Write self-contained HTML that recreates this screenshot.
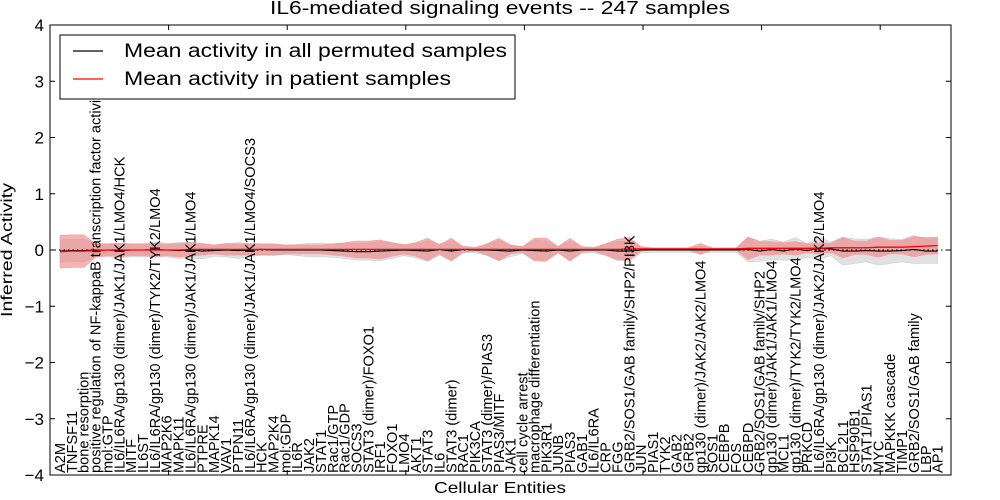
<!DOCTYPE html>
<html><head><meta charset="utf-8"><style>
html,body{margin:0;padding:0;background:#fff;}
svg{display:block;font-family:"Liberation Sans","DejaVu Sans",sans-serif;}
</style></head><body>
<svg id="chart" width="1000" height="500" viewBox="0 0 1000 500">
<rect x="0" y="0" width="1000" height="500" fill="#fff"/>
<text x="500" y="14" font-size="18" text-anchor="middle" textLength="460" lengthAdjust="spacingAndGlyphs">IL6-mediated signaling events -- 247 samples</text>
<text transform="translate(12,250) rotate(-90)" font-size="16" text-anchor="middle" textLength="134" lengthAdjust="spacingAndGlyphs">Inferred Activity</text>
<text x="500" y="493" font-size="16" text-anchor="middle" textLength="132" lengthAdjust="spacingAndGlyphs">Cellular Entities</text>
<g id="bands"></g>
<g id="lines"></g>
<g id="axes"></g>
<g id="xlabels"></g>
<g>
<rect x="60" y="35" width="455" height="64" fill="#fff" stroke="#000" stroke-width="1"/>
<line x1="73" y1="51" x2="103" y2="51" stroke="#000" stroke-width="1.2"/>
<text x="124" y="57" font-size="19" textLength="383" lengthAdjust="spacingAndGlyphs">Mean activity in all permuted samples</text>
<line x1="73" y1="79" x2="103" y2="79" stroke="#f00" stroke-width="1.2"/>
<text x="124" y="85" font-size="19" textLength="327" lengthAdjust="spacingAndGlyphs">Mean activity in patient samples</text>
</g>
</svg>
<script>
const categories = ["A2M","TNFSF11","bone resorption","positive regulation of NF-kappaB transcription factor activity","mol:GTP","IL6/IL6RA/gp130 (dimer)/JAK1/JAK1/LMO4/HCK","MITF","IL6ST","IL6/IL6RA/gp130 (dimer)/TYK2/TYK2/LMO4","MAP2K6","MAPK11","IL6/IL6RA/gp130 (dimer)/JAK1/JAK1/LMO4","PTPRE","MAPK14","VAV1","PTPN11","IL6/IL6RA/gp130 (dimer)/JAK1/JAK1/LMO4/SOCS3","HCK","MAP2K4","mol:GDP","IL6R","JAK2","STAT1","Rac1/GTP","Rac1/GDP","SOCS3","STAT3 (dimer)/FOXO1","IRF1","FOXO1","LMO4","AKT1","STAT3","IL6","STAT3 (dimer)","RAC1","PIK3CA","STAT3 (dimer)/PIAS3","PIAS3/MITF","JAK1","cell cycle arrest","macrophage differentiation","PIK3R1","JUNB","PIAS3","GAB1","IL6/IL6RA","CRP","FGG","GRB2/SOS1/GAB family/SHP2/PI3K","JUN","PIAS1","TYK2","GAB2","GRB2","gp130 (dimer)/JAK2/JAK2/LMO4","SOS1","CEBPB","FOS","CEBPD","GRB2/SOS1/GAB family/SHP2","gp130 (dimer)/JAK1/JAK1/LMO4","MCL1","gp130 (dimer)/TYK2/TYK2/LMO4","PRKCD","IL6/IL6RA/gp130 (dimer)/JAK2/JAK2/LMO4","PI3K","BCL2L1","HSP90B1","STAT1/PIAS1","MYC","MAPKKK cascade","TIMP1","GRB2/SOS1/GAB family","LBP","AP1"];
const patientMean = [-0.03,-0.02,-0.02,-0.01,0,0,0,0,0,0,0,0.01,0.01,0.01,0.01,0.01,0.01,0.01,0.01,0.01,0.01,0.01,0.01,0.01,0.01,0.01,0.01,0.01,0.01,0.01,0.01,0.01,0.01,0.01,0.01,0.01,0.01,0.01,0.01,0.01,0.01,0.01,0.01,0.01,0.01,0.01,0.01,0.01,0.02,0.02,0.02,0.02,0.02,0.02,0.02,0.02,0.02,0.02,0.03,0.03,0.03,0.03,0.03,0.03,0.03,0.04,0.04,0.04,0.04,0.05,0.05,0.05,0.06,0.07,0.08];
const patientSd = [0.29,0.29,0.29,0.12,0.1,0.12,0.1,0.1,0.12,0.1,0.12,0.12,0.1,0.08,0.1,0.1,0.1,0.1,0.1,0.08,0.08,0.08,0.08,0.1,0.12,0.15,0.15,0.17,0.12,0.08,0.12,0.2,0.08,0.2,0.05,0.03,0.1,0.2,0.08,0.05,0.2,0.2,0.05,0.2,0.05,0.03,0.1,0.18,0.2,0.04,0.02,0.02,0.02,0.02,0.1,0.02,0.02,0.02,0.2,0.12,0.12,0.1,0.12,0.08,0.1,0.08,0.18,0.12,0.12,0.18,0.12,0.12,0.18,0.15,0.15];
const permutedMean = [-0.02,-0.01,-0.01,0,0,-0.01,0,0,0.01,0,-0.01,0,-0.02,-0.01,0,-0.01,0,0.01,0,0,0,0,0,-0.01,-0.02,-0.03,-0.03,-0.02,-0.01,0,-0.01,-0.02,0.01,-0.02,0.01,0,0,-0.01,-0.02,0,-0.01,-0.02,0,-0.02,0,0,0,-0.02,-0.02,0,0,0,0,0,0,0,0,0,0.01,-0.02,0.01,-0.02,0.02,-0.01,0.03,0.02,-0.02,-0.02,-0.01,-0.02,-0.02,-0.01,0.01,-0.02,-0.02];
const permutedSd = [0.2,0.2,0.2,0.12,0.12,0.13,0.12,0.12,0.13,0.12,0.14,0.14,0.14,0.1,0.12,0.14,0.12,0.1,0.1,0.08,0.1,0.12,0.12,0.12,0.13,0.15,0.15,0.17,0.14,0.1,0.13,0.18,0.1,0.18,0.06,0.05,0.1,0.18,0.1,0.06,0.18,0.18,0.06,0.18,0.06,0.05,0.1,0.17,0.18,0.05,0.04,0.04,0.04,0.04,0.06,0.04,0.04,0.04,0.22,0.18,0.18,0.16,0.2,0.12,0.2,0.12,0.25,0.22,0.2,0.25,0.22,0.2,0.25,0.22,0.22];
const yTicks = [-4,-3,-2,-1,0,1,2,3,4];

const NS="http://www.w3.org/2000/svg";
const L=50,R=951,T=25,B=475;
const xS=i=>60+i*11.86;
const yS=v=>250-v*56.25;
function mk(tag,attrs,parent){const e=document.createElementNS(NS,tag);for(const k in attrs)e.setAttribute(k,attrs[k]);parent.appendChild(e);return e;}
function bandPath(m,s){let up=m.map((v,i)=>xS(i).toFixed(1)+","+yS(v+s[i]).toFixed(1));let dn=m.map((v,i)=>xS(i).toFixed(1)+","+yS(v-s[i]).toFixed(1)).reverse();return "M"+up.join("L")+"L"+dn.join("L")+"Z";}
function linePath(m){return "M"+m.map((v,i)=>xS(i).toFixed(1)+","+yS(v).toFixed(1)).join("L");}
const bands=document.getElementById("bands");
const gb=mk("path",{d:bandPath(permutedMean,permutedSd),fill:"#dcdcdc","fill-opacity":"0.85",stroke:"#cfcfcf","stroke-width":"0.6"},bands);


const rb=mk("path",{d:bandPath(patientMean,patientSd),fill:"#f08080","fill-opacity":"0.6",stroke:"#f4a0a0","stroke-width":"0.6"},bands);


const lines=document.getElementById("lines");
const zl=mk("line",{x1:L,x2:R,y1:yS(0),y2:yS(0),stroke:"#000","stroke-width":"1","stroke-dasharray":"1.5,3"},lines);


const bl=mk("path",{d:linePath(permutedMean),fill:"none",stroke:"#000","stroke-width":"1.1"},lines);


const rl=mk("path",{d:linePath(patientMean),fill:"none",stroke:"#f00","stroke-width":"1.3"},lines);


const axes=document.getElementById("axes");
const fr=mk("rect",{x:L,y:T,width:R-L,height:B-T,fill:"none",stroke:"#000","stroke-width":"1"},axes);


yTicks.forEach(v=>{
  const y=yS(v);
  mk("line",{x1:L,x2:L+5,y1:y,y2:y,stroke:"#000"},axes);
  mk("line",{x1:R-5,x2:R,y1:y,y2:y,stroke:"#000"},axes);
  const t=mk("text",{x:L-6,y:y+6,"font-size":"17","text-anchor":"end"},axes);
  t.textContent=(v<0?"\u2212"+(-v):String(v));
  
  
});
for(let k=1;k<8;k++){const x=L+k*118.6;mk("line",{x1:x,x2:x,y1:T,y2:T+5,stroke:"#000"},axes);mk("line",{x1:x,x2:x,y1:B-5,y2:B,stroke:"#000"},axes);}
const xl=document.getElementById("xlabels");
categories.forEach((c,i)=>{
  const t=mk("text",{transform:"translate("+(xS(i)+5).toFixed(1)+",473) rotate(-90)","font-size":"14.6"},xl);
  t.textContent=c;
  
  
});
</script>
</body></html>
